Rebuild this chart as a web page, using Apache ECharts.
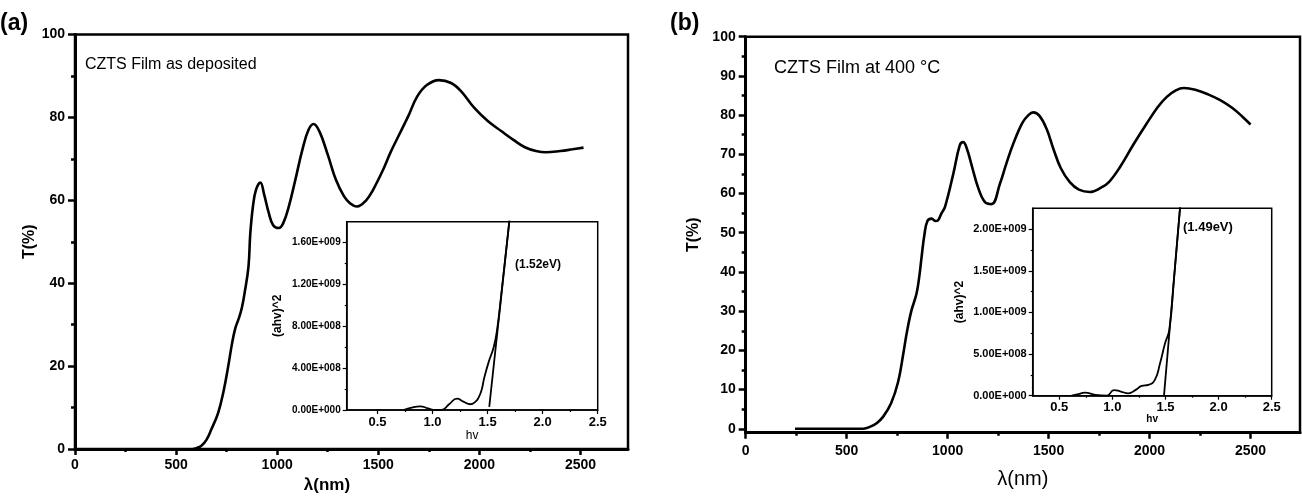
<!DOCTYPE html>
<html>
<head>
<meta charset="utf-8">
<script src="https://cdn.jsdelivr.net/npm/echarts@6/dist/echarts.min.js"></script>
<style>
  html, body { margin: 0; padding: 0; background: #fff; }
  #chart { width: 1302px; height: 499px; }
</style>
</head>
<body>
<div id="chart"></div>
<script>
// Panel (a): CZTS film as deposited, transmittance vs wavelength
const WL_A = [583, 600, 625, 650, 675, 708, 735, 758, 775, 792, 810, 825, 840, 858, 867, 880, 895, 917, 935, 958,
  980, 1008, 1030, 1058, 1090, 1125, 1155, 1180, 1210, 1250, 1290, 1330, 1360, 1395, 1440, 1475, 1525, 1560, 1608,
  1650, 1692, 1740, 1800, 1860, 1910, 1975, 2040, 2108, 2170, 2225, 2280, 2330, 2400, 2460, 2515]
const T_A = [0, 0.2, 0.8, 2.2, 4.8, 8.7, 14, 20, 25, 29, 31.5, 34, 38, 44, 52, 58.5, 62.5, 64.3, 61.5, 57,
  54, 53.3, 54.5, 58.6, 65, 72.3, 77, 78.4, 76.5, 71, 65, 61, 59.3, 58.5, 60, 62.6, 67.5, 71.5, 76.3,
  80.5, 85, 87.8, 89, 88.3, 86.3, 82.3, 79.2, 76.7, 74.5, 72.8, 71.9, 71.6, 71.9, 72.3, 72.7]

// Panel (b): CZTS film at 400 °C
const WL_B = [244, 400, 582, 620, 650, 681, 720, 755, 780, 797, 820, 846, 860, 871, 885, 900, 921, 940, 953, 970,
  987, 1028, 1060, 1077, 1095, 1120, 1151, 1185, 1218, 1259, 1290, 1325, 1370, 1400, 1424, 1455, 1490, 1523, 1560, 1605, 1650,
  1705, 1760, 1800, 1853, 1920, 1985, 2040, 2084, 2130, 2170, 2230, 2290, 2350, 2410, 2460, 2500]
const T_B = [0, 0, 0, 0.6, 1.5, 3.1, 6.5, 12, 19, 24.3, 30, 34.5, 39, 43.8, 49.5, 53, 53.6, 53, 53.2, 55,
  56.6, 65, 72.3, 73.1, 71.5, 67, 61.5, 57.8, 57.3, 62.5, 67.5, 72.7, 78, 80, 80.7, 79.8, 76.5, 71.5, 66.5, 62.9, 61,
  60.4, 61.5, 63, 66.7, 72.5, 77.8, 82, 84.6, 86.3, 86.9, 86.4, 85.3, 83.8, 81.8, 79.6, 77.6]

// Insets: (ahv)^2 vs hv, with the linear fit for the band gap
const HV_A = [0.736, 0.80, 0.888, 0.96, 1.025, 1.085, 1.15, 1.222, 1.28, 1.343, 1.39, 1.418, 1.445, 1.47, 1.51, 1.555, 1.585, 1.63, 1.70]
const AHV_A = [0, 0.2e8, 0.35e8, 0.15e8, 0, 0.02e8, 0.55e8, 1.08e8, 0.8e8, 0.55e8, 0.8e8, 1.18e8, 1.9e8, 3.1e8, 4.6e8, 6.0e8, 7.6e8, 1.16e9, 1.83e9]
const FIT_HV_A = [1.515, 1.70]
const FIT_AHV_A = [0.3e8, 1.83e9]

const HV_B = [0.617, 0.68, 0.742, 0.84, 0.947, 1.016, 1.08, 1.15, 1.22, 1.276, 1.339, 1.40, 1.449, 1.496, 1.536, 1.58, 1.64]
const AHV_B = [0, 0.2e8, 0.36e8, 0.1e8, 0, 0.68e8, 0.5e8, 0.29e8, 0.7e8, 1.17e8, 1.29e8, 1.9e8, 3.9e8, 6.3e8, 7.9e8, 1.4e9, 2.3e9]
const FIT_HV_B = [1.486, 1.64]
const FIT_AHV_B = [0, 2.3e9]

// Tick values
const WL_TICKS = [0, 500, 1000, 1500, 2000, 2500]
const WL_MINOR = [250, 750, 1250, 1750, 2250]
const T_TICKS_A = [0, 20, 40, 60, 80, 100]
const T_MINOR_A = [10, 30, 50, 70, 90]
const T_TICKS_B = [0, 10, 20, 30, 40, 50, 60, 70, 80, 90, 100]
const T_MINOR_B = [5, 15, 25, 35, 45, 55, 65, 75, 85, 95]
const HV_TICKS = [0.5, 1.0, 1.5, 2.0, 2.5]
const HV_MINOR = [0.75, 1.25, 1.75, 2.25]
const AHV_TICKS_A = [0, 4e8, 8e8, 1.2e9, 1.6e9]
const AHV_MINOR_A = [2e8, 6e8, 1e9, 1.4e9]
const AHV_TICKS_B = [0, 5e8, 1e9, 1.5e9, 2e9]
const AHV_MINOR_B = [2.5e8, 7.5e8, 1.25e9, 1.75e9]

const FONT = 'Liberation Sans, Arial, sans-serif'

const pairs = (xs, ys) => xs.map((x, i) => [x, ys[i]])

// Origin style scientific label: 1.60E+009
function sci(v) {
  if (v === 0) return '0.00E+000'
  const e = Math.floor(Math.log10(v) + 1e-9)
  const m = v / Math.pow(10, e)
  return m.toFixed(2) + 'E+' + String(e).padStart(3, '0')
}

/**
 * Build a main axis (line, major ticks, labels) and an overlay axis for minor ticks
 */
function axisPair(grid, o) {
  const main = {
    type: 'value', gridIndex: grid, min: o.min, max: o.max, position: o.pos,
    axisLine: { show: true, onZero: false, lineStyle: { color: '#000', width: o.lw } },
    axisTick: { show: true, customValues: o.ticks, length: o.tl, lineStyle: { color: '#000', width: o.tw } },
    axisLabel: {
      customValues: o.ticks, formatter: o.fmt, margin: o.margin, color: '#000',
      fontWeight: 'bold', fontSize: o.fs, fontFamily: FONT
    },
    splitLine: { show: false }
  }
  if (o.name) {
    main.name = o.name
    main.nameLocation = 'middle'
    main.nameGap = o.nameGap
    main.nameTextStyle = Object.assign({ color: '#000', fontFamily: FONT }, o.nameStyle)
  }
  const minor = {
    type: 'value', gridIndex: grid, min: o.min, max: o.max, position: o.pos,
    axisLine: { show: false, onZero: false },
    axisTick: { show: true, customValues: o.minor, length: Math.round(o.tl * 0.55), lineStyle: { color: '#000', width: o.tw } },
    axisLabel: { show: false },
    splitLine: { show: false }
  }
  return [main, minor]
}

const xAxes = [
  ...axisPair(0, { min: 0, max: 2735, pos: 'bottom', lw: 3, tl: 6, tw: 2.5, ticks: WL_TICKS, minor: WL_MINOR,
    fmt: v => String(v), margin: 9, fs: 14,
    name: 'λ(nm)', nameGap: 28, nameStyle: { fontSize: 17, fontWeight: 'bold', padding: [0, 49, 0, 0] } }),
  ...axisPair(1, { min: 0, max: 2745, pos: 'bottom', lw: 3, tl: 6, tw: 2.5, ticks: WL_TICKS, minor: WL_MINOR,
    fmt: v => String(v), margin: 11, fs: 14,
    name: 'λ(nm)', nameGap: 37, nameStyle: { fontSize: 20 } }),
  ...axisPair(2, { min: 0.22, max: 2.5, pos: 'bottom', lw: 1.5, tl: 4, tw: 1.2, ticks: HV_TICKS, minor: HV_MINOR,
    fmt: v => v.toFixed(1), margin: 6, fs: 13,
    name: 'hv', nameGap: 20, nameStyle: { fontSize: 12 } }),
  ...axisPair(3, { min: 0.25, max: 2.5, pos: 'bottom', lw: 1.5, tl: 4, tw: 1.2, ticks: HV_TICKS, minor: HV_MINOR,
    fmt: v => v.toFixed(1), margin: 5, fs: 13,
    name: 'hv', nameGap: 17, nameStyle: { fontSize: 10, fontWeight: 'bold' } })
]

const yAxes = [
  ...axisPair(0, { min: 0, max: 100, pos: 'left', lw: 3, tl: 7, tw: 2.5, ticks: T_TICKS_A, minor: T_MINOR_A,
    fmt: v => String(v), margin: 10, fs: 14,
    name: 'T(%)', nameGap: 36, nameStyle: { fontSize: 16, fontWeight: 'bold' } }),
  ...axisPair(1, { min: -1, max: 100, pos: 'left', lw: 3, tl: 7, tw: 2.5, ticks: T_TICKS_B, minor: T_MINOR_B,
    fmt: v => String(v), margin: 10, fs: 14,
    name: 'T(%)', nameGap: 44, nameStyle: { fontSize: 16, fontWeight: 'bold' } }),
  ...axisPair(2, { min: 0, max: 1.8e9, pos: 'left', lw: 1.5, tl: 4, tw: 1.2, ticks: AHV_TICKS_A, minor: AHV_MINOR_A,
    fmt: sci, margin: 6, fs: 10,
    name: '(ahv)^2', nameGap: 63, nameStyle: { fontSize: 12, fontWeight: 'bold' } }),
  ...axisPair(3, { min: 0, max: 2.25e9, pos: 'left', lw: 1.5, tl: 4, tw: 1.2, ticks: AHV_TICKS_B, minor: AHV_MINOR_B,
    fmt: sci, margin: 6, fs: 11,
    name: '(ahv)^2', nameGap: 67, nameStyle: { fontSize: 12, fontWeight: 'bold' } })
]

const lineSeries = (axis, data, smooth) => ({
  type: 'line', xAxisIndex: axis, yAxisIndex: axis, data,
  showSymbol: false, smooth: smooth,
  clip: true, silent: true,
  lineStyle: { color: '#000', width: axis < 4 ? 2.6 : 1.8 }
})

const chart = echarts.init(document.getElementById('chart'), null, { renderer: 'canvas' })
chart.setOption({
  animation: false,
  backgroundColor: '#fff',
  grid: [
    { left: 75, top: 34.5, width: 553, height: 415.5, show: true, borderColor: '#000', borderWidth: 2.5 },
    { left: 745.7, top: 36.7, width: 554.3, height: 396, show: true, borderColor: '#000', borderWidth: 2.5 },
    { left: 346.7, top: 221.7, width: 251, height: 188.3, show: true, borderColor: '#000', borderWidth: 1.5, backgroundColor: '#fff' },
    { left: 1032.7, top: 208.3, width: 239, height: 187.4, show: true, borderColor: '#000', borderWidth: 1.5, backgroundColor: '#fff' }
  ],
  xAxis: xAxes,
  yAxis: yAxes,
  series: [
    lineSeries(0, pairs(WL_A, T_A), 0.4),
    lineSeries(2, pairs(WL_B, T_B), 0.4),
    lineSeries(4, pairs(HV_A, AHV_A), 0.5),
    lineSeries(4, pairs(FIT_HV_A, FIT_AHV_A), false),
    lineSeries(6, pairs(HV_B, AHV_B), 0.5),
    lineSeries(6, pairs(FIT_HV_B, FIT_AHV_B), false)
  ],
  graphic: [
    { type: 'text', left: 0, top: 12, style: { text: '(a)', font: 'bold 23px ' + FONT, fill: '#000' } },
    { type: 'text', left: 670, top: 12, style: { text: '(b)', font: 'bold 23px ' + FONT, fill: '#000' } },
    { type: 'text', left: 85, top: 57, style: { text: 'CZTS Film as deposited', font: '16px ' + FONT, fill: '#000' } },
    { type: 'text', left: 774, top: 59, style: { text: 'CZTS Film at 400 °C', font: '18px ' + FONT, fill: '#000' } },
    { type: 'text', left: 515, top: 259, style: { text: '(1.52eV)', font: 'bold 12px ' + FONT, fill: '#000' } },
    { type: 'text', left: 1183, top: 221, style: { text: '(1.49eV)', font: 'bold 13px ' + FONT, fill: '#000' } }
  ]
})
</script>
</body>
</html>
